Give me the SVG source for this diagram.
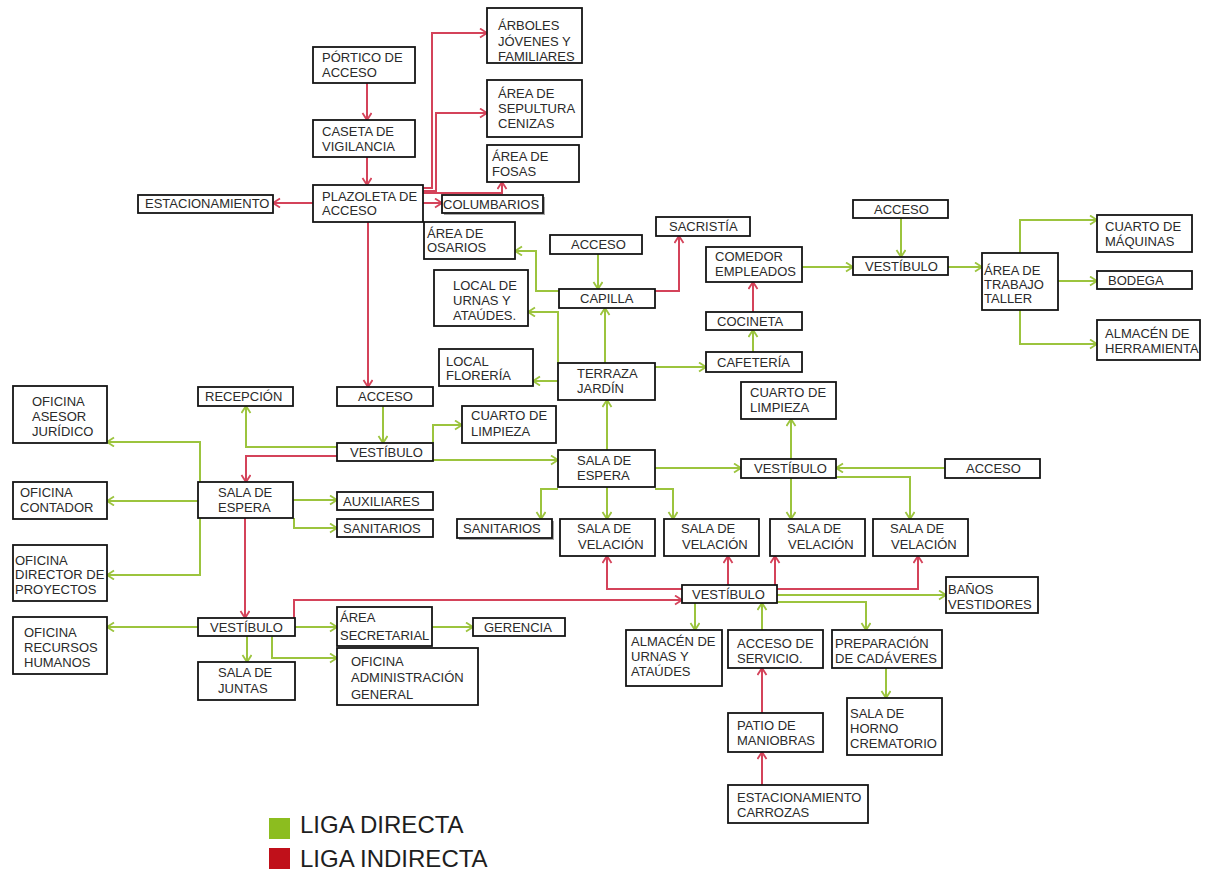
<svg xmlns="http://www.w3.org/2000/svg" width="1213" height="871" viewBox="0 0 1213 871">
<style>
.n rect{fill:#fff;stroke:#141414;stroke-width:1.8}
.n text{font-family:"Liberation Sans",Arial,sans-serif;font-size:13px;fill:#2a2a2a}
.n rect.sh{fill:#a8a8a8;stroke:none}
.g{fill:none;stroke:#9cc43e;stroke-width:2;marker-end:url(#ag)}
.r{fill:none;stroke:#d4435a;stroke-width:2;marker-end:url(#ar)}
.lg{font-family:"Liberation Sans",Arial,sans-serif;font-size:24px;fill:#1e1e1e}
</style>
<defs>
<marker id="ag" markerUnits="userSpaceOnUse" markerWidth="12" markerHeight="12" refX="8" refY="5" orient="auto"><path d="M1,0.5 L8,5 L1,9.5" fill="none" stroke="#9cc43e" stroke-width="1.8"/></marker>
<marker id="ar" markerUnits="userSpaceOnUse" markerWidth="12" markerHeight="12" refX="8" refY="5" orient="auto"><path d="M1,0.5 L8,5 L1,9.5" fill="none" stroke="#d4435a" stroke-width="1.8"/></marker>
</defs>
<rect width="1213" height="871" fill="#fff"/>
<g id="connectors">
<path class="r" d="M367,83 V120"/>
<path class="r" d="M367,157 V185"/>
<path class="r" d="M313,203 H273"/>
<path class="r" d="M423,203 H442"/>
<path class="r" d="M423,188 H432 V33 H487"/>
<path class="r" d="M423,191 H436 V113 H487"/>
<path class="r" d="M423,193 H502 V182"/>
<path class="r" d="M368,222 V387"/>
<path class="g" d="M383,406 V443"/>
<path class="g" d="M337,447 H246 V406"/>
<path class="r" d="M337,456 H246 V482"/>
<path class="g" d="M433,443 V425 H462"/>
<path class="g" d="M433,460 H558"/>
<path class="g" d="M200,482 V442 H107"/>
<path class="g" d="M198,501 H107"/>
<path class="g" d="M200,518 V575 H107"/>
<path class="g" d="M293,500 H337"/>
<path class="g" d="M294,518 V528 H337"/>
<path class="r" d="M245,518 V618"/>
<path class="g" d="M198,627 H107"/>
<path class="g" d="M295,627 H337"/>
<path class="g" d="M432,627 H473"/>
<path class="g" d="M247,636 V662"/>
<path class="g" d="M272,636 V658 H337"/>
<path class="r" d="M294,618 V600 H682"/>
<path class="g" d="M598,254 V289"/>
<path class="g" d="M559,291 H536 V251 H515"/>
<path class="g" d="M558,365 V312 H528"/>
<path class="g" d="M558,381 H533"/>
<path class="g" d="M605,363 V308"/>
<path class="r" d="M655,291 H679 V236"/>
<path class="g" d="M655,367 H706"/>
<path class="g" d="M753,352 V330"/>
<path class="r" d="M753,312 V282"/>
<path class="g" d="M802,267 H853"/>
<path class="g" d="M901,218 V257"/>
<path class="g" d="M948,267 H982"/>
<path class="g" d="M1020,253 V220 H1097"/>
<path class="g" d="M1058,281 H1097"/>
<path class="g" d="M1020,310 V344 H1097"/>
<path class="g" d="M607,450 V400"/>
<path class="g" d="M655,468 H741"/>
<path class="g" d="M945,468 H836"/>
<path class="g" d="M791,459 V419"/>
<path class="g" d="M791,478 V519"/>
<path class="g" d="M836,477 H910 V519"/>
<path class="g" d="M558,489 H541 V519"/>
<path class="g" d="M607,487 V519"/>
<path class="g" d="M655,489 H673 V519"/>
<path class="r" d="M682,589 H607 V556"/>
<path class="r" d="M728,585 V556"/>
<path class="r" d="M775,585 V556"/>
<path class="r" d="M777,589 H918 V556"/>
<path class="g" d="M777,595 H946"/>
<path class="g" d="M777,602 H866 V630"/>
<path class="g" d="M695,603 V630"/>
<path class="g" d="M762,630 V603"/>
<path class="r" d="M762,713 V668"/>
<path class="r" d="M762,785 V752"/>
<path class="g" d="M886,668 V698"/>
</g>
<g id="arboles" class="n"><rect x="487" y="8" width="95" height="55"/><text><tspan x="498" y="30">ÁRBOLES</tspan><tspan x="498" y="46">JÓVENES Y</tspan><tspan x="498" y="61">FAMILIARES</tspan></text></g>
<g id="portico" class="n"><rect x="313" y="47" width="102" height="36"/><text><tspan x="322" y="62">PÓRTICO DE</tspan><tspan x="322" y="77">ACCESO</tspan></text></g>
<g id="sepultura" class="n"><rect x="487" y="80" width="95" height="57"/><text><tspan x="498" y="98">ÁREA DE</tspan><tspan x="498" y="113">SEPULTURA</tspan><tspan x="498" y="128">CENIZAS</tspan></text></g>
<g id="caseta" class="n"><rect x="313" y="120" width="102" height="37"/><text><tspan x="322" y="136">CASETA DE</tspan><tspan x="322" y="151">VIGILANCIA</tspan></text></g>
<g id="fosas" class="n"><rect x="487" y="145" width="92" height="37"/><text><tspan x="492" y="161">ÁREA DE</tspan><tspan x="492" y="176">FOSAS</tspan></text></g>
<g id="estacionamiento" class="n"><rect x="138" y="195" width="135" height="18"/><text><tspan x="145" y="208">ESTACIONAMIENTO</tspan></text></g>
<g id="plazoleta" class="n"><rect x="313" y="185" width="110" height="37"/><text><tspan x="322" y="201">PLAZOLETA DE</tspan><tspan x="322" y="215">ACCESO</tspan></text></g>
<g id="columbarios" class="n"><rect class="sh" x="444" y="197" width="101" height="18"/><rect x="442" y="195" width="101" height="18"/><text><tspan x="443" y="209">COLUMBARIOS</tspan></text></g>
<g id="osarios" class="n"><rect x="424" y="222" width="91" height="37"/><text><tspan x="427" y="238">ÁREA DE</tspan><tspan x="427" y="252">OSARIOS</tspan></text></g>
<g id="sacristia" class="n"><rect x="656" y="217" width="94" height="19"/><text><tspan x="669" y="231">SACRISTÍA</tspan></text></g>
<g id="acceso-capilla" class="n"><rect x="550" y="235" width="92" height="19"/><text><tspan x="571" y="249">ACCESO</tspan></text></g>
<g id="comedor" class="n"><rect x="706" y="247" width="96" height="35"/><text><tspan x="715" y="261">COMEDOR</tspan><tspan x="715" y="276">EMPLEADOS</tspan></text></g>
<g id="acceso-taller" class="n"><rect x="853" y="200" width="95" height="18"/><text><tspan x="874" y="214">ACCESO</tspan></text></g>
<g id="vestibulo-taller" class="n"><rect x="853" y="257" width="95" height="18"/><text><tspan x="865" y="271">VESTÍBULO</tspan></text></g>
<g id="taller" class="n"><rect x="982" y="253" width="76" height="57"/><text><tspan x="984" y="275">ÁREA DE</tspan><tspan x="984" y="289">TRABAJO</tspan><tspan x="984" y="303">TALLER</tspan></text></g>
<g id="maquinas" class="n"><rect x="1097" y="215" width="95" height="37"/><text><tspan x="1105" y="231">CUARTO DE</tspan><tspan x="1105" y="246">MÁQUINAS</tspan></text></g>
<g id="bodega" class="n"><rect x="1097" y="271" width="95" height="18"/><text><tspan x="1108" y="285">BODEGA</tspan></text></g>
<g id="herramienta" class="n"><rect x="1097" y="320" width="103" height="40"/><text><tspan x="1105" y="338">ALMACÉN DE</tspan><tspan x="1105" y="353">HERRAMIENTA</tspan></text></g>
<g id="urnas" class="n"><rect x="434" y="270" width="94" height="56"/><text><tspan x="453" y="290">LOCAL DE</tspan><tspan x="453" y="305">URNAS Y</tspan><tspan x="453" y="320">ATAÚDES.</tspan></text></g>
<g id="capilla" class="n"><rect x="559" y="289" width="96" height="19"/><text><tspan x="580" y="303">CAPILLA</tspan></text></g>
<g id="cocineta" class="n"><rect x="706" y="312" width="96" height="18"/><text><tspan x="717" y="326">COCINETA</tspan></text></g>
<g id="floreria" class="n"><rect x="439" y="349" width="94" height="37"/><text><tspan x="446" y="366">LOCAL</tspan><tspan x="446" y="380">FLORERÍA</tspan></text></g>
<g id="cafeteria" class="n"><rect x="706" y="352" width="96" height="20"/><text><tspan x="717" y="367">CAFETERÍA</tspan></text></g>
<g id="terraza" class="n"><rect x="558" y="363" width="97" height="37"/><text><tspan x="577" y="378">TERRAZA</tspan><tspan x="577" y="393">JARDÍN</tspan></text></g>
<g id="recepcion" class="n"><rect x="198" y="387" width="95" height="19"/><text><tspan x="205" y="401">RECEPCIÓN</tspan></text></g>
<g id="acceso-admin" class="n"><rect x="337" y="387" width="96" height="19"/><text><tspan x="358" y="401">ACCESO</tspan></text></g>
<g id="asesor" class="n"><rect x="13" y="386" width="94" height="57"/><text><tspan x="32" y="406">OFICINA</tspan><tspan x="32" y="421">ASESOR</tspan><tspan x="32" y="436">JURÍDICO</tspan></text></g>
<g id="limpieza-1" class="n"><rect x="462" y="406" width="94" height="37"/><text><tspan x="471" y="420">CUARTO DE</tspan><tspan x="471" y="436">LIMPIEZA</tspan></text></g>
<g id="limpieza-2" class="n"><rect x="741" y="382" width="95" height="37"/><text><tspan x="750" y="397">CUARTO DE</tspan><tspan x="750" y="412">LIMPIEZA</tspan></text></g>
<g id="vestibulo-admin" class="n"><rect x="337" y="443" width="96" height="18"/><text><tspan x="350" y="457">VESTÍBULO</tspan></text></g>
<g id="espera-velacion" class="n"><rect x="558" y="450" width="97" height="37"/><text><tspan x="577" y="465">SALA DE</tspan><tspan x="577" y="480">ESPERA</tspan></text></g>
<g id="vestibulo-velacion" class="n"><rect x="741" y="459" width="95" height="19"/><text><tspan x="754" y="473">VESTÍBULO</tspan></text></g>
<g id="acceso-velacion" class="n"><rect x="945" y="459" width="95" height="19"/><text><tspan x="966" y="473">ACCESO</tspan></text></g>
<g id="espera-admin" class="n"><rect x="198" y="482" width="95" height="36"/><text><tspan x="218" y="497">SALA DE</tspan><tspan x="218" y="512">ESPERA</tspan></text></g>
<g id="contador" class="n"><rect x="13" y="482" width="94" height="37"/><text><tspan x="20" y="497">OFICINA</tspan><tspan x="20" y="512">CONTADOR</tspan></text></g>
<g id="auxiliares" class="n"><rect x="337" y="492" width="96" height="18"/><text><tspan x="343" y="506">AUXILIARES</tspan></text></g>
<g id="sanitarios-1" class="n"><rect x="337" y="519" width="96" height="18"/><text><tspan x="343" y="533">SANITARIOS</tspan></text></g>
<g id="sanitarios-2" class="n"><rect class="sh" x="459" y="521" width="95" height="19"/><rect x="457" y="519" width="95" height="19"/><text><tspan x="463" y="533">SANITARIOS</tspan></text></g>
<g id="velacion-1" class="n"><rect x="560" y="519" width="95" height="37"/><text><tspan x="577" y="533">SALA DE</tspan><tspan x="578" y="549">VELACIÓN</tspan></text></g>
<g id="velacion-2" class="n"><rect x="664" y="519" width="95" height="37"/><text><tspan x="681" y="533">SALA DE</tspan><tspan x="682" y="549">VELACIÓN</tspan></text></g>
<g id="velacion-3" class="n"><rect x="770" y="519" width="95" height="37"/><text><tspan x="787" y="533">SALA DE</tspan><tspan x="788" y="549">VELACIÓN</tspan></text></g>
<g id="velacion-4" class="n"><rect x="873" y="519" width="95" height="37"/><text><tspan x="890" y="533">SALA DE</tspan><tspan x="891" y="549">VELACIÓN</tspan></text></g>
<g id="director" class="n"><rect x="13" y="545" width="94" height="56"/><text><tspan x="15" y="565">OFICINA</tspan><tspan x="15" y="579">DIRECTOR DE</tspan><tspan x="15" y="594">PROYECTOS</tspan></text></g>
<g id="vestibulo-servicio" class="n"><rect x="682" y="585" width="95" height="18"/><text><tspan x="692" y="599">VESTÍBULO</tspan></text></g>
<g id="banos" class="n"><rect x="946" y="577" width="92" height="36"/><text><tspan x="948" y="594">BAÑOS</tspan><tspan x="948" y="609">VESTIDORES</tspan></text></g>
<g id="rrhh" class="n"><rect x="13" y="617" width="94" height="57"/><text><tspan x="24" y="637">OFICINA</tspan><tspan x="24" y="652">RECURSOS</tspan><tspan x="24" y="667">HUMANOS</tspan></text></g>
<g id="vestibulo-gerencia" class="n"><rect x="198" y="618" width="97" height="18"/><text><tspan x="210" y="632">VESTÍBULO</tspan></text></g>
<g id="secretarial" class="n"><rect x="337" y="607" width="95" height="39"/><text><tspan x="340" y="622">ÁREA</tspan><tspan x="340" y="640">SECRETARIAL</tspan></text></g>
<g id="gerencia" class="n"><rect x="473" y="618" width="92" height="18"/><text><tspan x="484" y="632">GERENCIA</tspan></text></g>
<g id="juntas" class="n"><rect x="198" y="662" width="97" height="38"/><text><tspan x="218" y="677">SALA DE</tspan><tspan x="218" y="693">JUNTAS</tspan></text></g>
<g id="administracion" class="n"><rect x="337" y="648" width="141" height="57"/><text><tspan x="351" y="666">OFICINA</tspan><tspan x="351" y="682">ADMINISTRACIÓN</tspan><tspan x="351" y="699">GENERAL</tspan></text></g>
<g id="almacen-urnas" class="n"><rect x="626" y="630" width="96" height="56"/><text><tspan x="631" y="646">ALMACÉN DE</tspan><tspan x="631" y="661">URNAS Y</tspan><tspan x="631" y="676">ATAÚDES</tspan></text></g>
<g id="acceso-servicio" class="n"><rect x="728" y="630" width="95" height="38"/><text><tspan x="737" y="648">ACCESO DE</tspan><tspan x="737" y="663">SERVICIO.</tspan></text></g>
<g id="preparacion" class="n"><rect x="832" y="630" width="110" height="38"/><text><tspan x="835" y="648">PREPARACIÓN</tspan><tspan x="835" y="663">DE CADÁVERES</tspan></text></g>
<g id="horno" class="n"><rect x="847" y="698" width="95" height="57"/><text><tspan x="850" y="718">SALA DE</tspan><tspan x="850" y="733">HORNO</tspan><tspan x="850" y="748">CREMATORIO</tspan></text></g>
<g id="patio" class="n"><rect x="728" y="713" width="95" height="39"/><text><tspan x="737" y="730">PATIO DE</tspan><tspan x="737" y="745">MANIOBRAS</tspan></text></g>
<g id="carrozas" class="n"><rect x="728" y="785" width="140" height="38"/><text><tspan x="737" y="802">ESTACIONAMIENTO</tspan><tspan x="737" y="817">CARROZAS</tspan></text></g>
<g id="legend">
<rect x="269" y="818" width="21" height="21" fill="#8cbd1f"/>
<text class="lg" x="300" y="833">LIGA DIRECTA</text>
<rect x="269" y="848" width="21" height="21" fill="#c0101a"/>
<text class="lg" x="300" y="867">LIGA INDIRECTA</text>
</g>
</svg>
